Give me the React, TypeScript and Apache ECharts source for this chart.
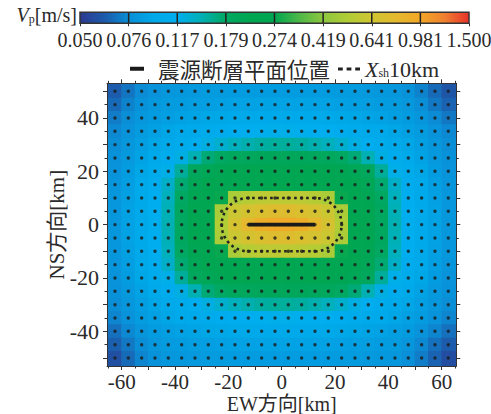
import React, { useEffect, useRef } from "react";
import * as echarts from "echarts";

// ---- grid of cell centres (km) ----
const xCenters = [-62.5, -57.5, -52.5, -47.5, -42.5, -37.5, -32.5, -27.5, -22.5, -17.5, -12.5, -7.5, -2.5, 2.5, 7.5, 12.5, 17.5, 22.5, 27.5, 32.5, 37.5, 42.5, 47.5, 52.5, 57.5, 62.5];
const yCenters = [50, 45, 40, 35, 30, 25, 20, 15, 10, 5, 0, -5, -10, -15, -20, -25, -30, -35, -40, -45, -50];

// ---- Vp [m/s] per row (west -> east) ----
const vpY50 = [0.062, 0.069, 0.076, 0.080, 0.082, 0.083, 0.084, 0.085, 0.085, 0.086, 0.086, 0.086, 0.086, 0.086, 0.086, 0.086, 0.086, 0.085, 0.085, 0.084, 0.083, 0.082, 0.079, 0.073, 0.066, 0.060];
const vpY45 = [0.066, 0.073, 0.079, 0.083, 0.085, 0.086, 0.087, 0.088, 0.089, 0.090, 0.090, 0.091, 0.091, 0.091, 0.091, 0.090, 0.090, 0.089, 0.088, 0.087, 0.086, 0.085, 0.082, 0.077, 0.070, 0.064];
const vpY40 = [0.071, 0.077, 0.082, 0.086, 0.088, 0.090, 0.092, 0.094, 0.096, 0.098, 0.099, 0.100, 0.100, 0.100, 0.100, 0.099, 0.098, 0.096, 0.094, 0.092, 0.090, 0.088, 0.086, 0.081, 0.076, 0.070];
const vpY35 = [0.075, 0.080, 0.085, 0.089, 0.093, 0.097, 0.101, 0.106, 0.110, 0.113, 0.116, 0.118, 0.119, 0.119, 0.118, 0.116, 0.113, 0.110, 0.106, 0.101, 0.097, 0.093, 0.089, 0.085, 0.080, 0.075];
const vpY30 = [0.077, 0.082, 0.088, 0.093, 0.099, 0.106, 0.114, 0.123, 0.132, 0.140, 0.147, 0.152, 0.154, 0.154, 0.152, 0.147, 0.140, 0.132, 0.123, 0.114, 0.106, 0.099, 0.093, 0.088, 0.082, 0.077];
const vpY25 = [0.079, 0.084, 0.091, 0.099, 0.109, 0.123, 0.145, 0.170, 0.182, 0.188, 0.192, 0.195, 0.196, 0.196, 0.195, 0.192, 0.188, 0.182, 0.170, 0.145, 0.123, 0.109, 0.099, 0.091, 0.084, 0.079];
const vpY20 = [0.080, 0.086, 0.094, 0.104, 0.120, 0.155, 0.190, 0.205, 0.215, 0.222, 0.228, 0.232, 0.233, 0.233, 0.232, 0.228, 0.222, 0.215, 0.205, 0.190, 0.155, 0.120, 0.104, 0.094, 0.086, 0.080];
const vpY15 = [0.081, 0.088, 0.097, 0.110, 0.135, 0.172, 0.205, 0.225, 0.240, 0.255, 0.265, 0.272, 0.275, 0.275, 0.272, 0.265, 0.255, 0.240, 0.225, 0.205, 0.172, 0.135, 0.110, 0.097, 0.088, 0.081];
const vpY10 = [0.082, 0.089, 0.099, 0.114, 0.140, 0.180, 0.215, 0.240, 0.280, 0.500, 0.540, 0.560, 0.570, 0.570, 0.560, 0.540, 0.500, 0.280, 0.240, 0.215, 0.180, 0.140, 0.114, 0.099, 0.089, 0.082];
const vpY05 = [0.082, 0.090, 0.101, 0.117, 0.143, 0.185, 0.222, 0.255, 0.500, 0.620, 0.680, 0.720, 0.740, 0.740, 0.720, 0.680, 0.620, 0.500, 0.255, 0.222, 0.185, 0.143, 0.117, 0.101, 0.090, 0.082];
const vpY00 = [0.082, 0.090, 0.102, 0.118, 0.145, 0.187, 0.225, 0.260, 0.520, 0.680, 0.800, 0.900, 0.950, 0.950, 0.900, 0.800, 0.680, 0.520, 0.260, 0.225, 0.187, 0.145, 0.118, 0.102, 0.090, 0.082];
const vpYm05 = [0.082, 0.090, 0.101, 0.117, 0.143, 0.185, 0.222, 0.255, 0.500, 0.620, 0.680, 0.720, 0.740, 0.740, 0.720, 0.680, 0.620, 0.500, 0.255, 0.222, 0.185, 0.143, 0.117, 0.101, 0.090, 0.082];
const vpYm10 = [0.082, 0.089, 0.099, 0.114, 0.140, 0.180, 0.215, 0.240, 0.280, 0.500, 0.540, 0.560, 0.570, 0.570, 0.560, 0.540, 0.500, 0.280, 0.240, 0.215, 0.180, 0.140, 0.114, 0.099, 0.089, 0.082];
const vpYm15 = [0.081, 0.088, 0.097, 0.110, 0.135, 0.172, 0.205, 0.225, 0.240, 0.255, 0.265, 0.272, 0.275, 0.275, 0.272, 0.265, 0.255, 0.240, 0.225, 0.205, 0.172, 0.135, 0.110, 0.097, 0.088, 0.081];
const vpYm20 = [0.080, 0.086, 0.094, 0.104, 0.120, 0.155, 0.190, 0.205, 0.215, 0.222, 0.228, 0.232, 0.233, 0.233, 0.232, 0.228, 0.222, 0.215, 0.205, 0.190, 0.155, 0.120, 0.104, 0.094, 0.086, 0.080];
const vpYm25 = [0.079, 0.084, 0.091, 0.099, 0.109, 0.123, 0.145, 0.170, 0.182, 0.188, 0.192, 0.195, 0.196, 0.196, 0.195, 0.192, 0.188, 0.182, 0.170, 0.145, 0.123, 0.109, 0.099, 0.091, 0.084, 0.079];
const vpYm30 = [0.077, 0.082, 0.088, 0.093, 0.099, 0.106, 0.114, 0.123, 0.132, 0.140, 0.147, 0.152, 0.154, 0.154, 0.152, 0.147, 0.140, 0.132, 0.123, 0.114, 0.106, 0.099, 0.093, 0.088, 0.082, 0.077];
const vpYm35 = [0.074, 0.080, 0.085, 0.089, 0.093, 0.097, 0.101, 0.106, 0.110, 0.113, 0.116, 0.118, 0.119, 0.119, 0.118, 0.116, 0.113, 0.110, 0.106, 0.101, 0.097, 0.093, 0.089, 0.085, 0.080, 0.074];
const vpYm40 = [0.068, 0.075, 0.081, 0.086, 0.088, 0.090, 0.092, 0.094, 0.096, 0.098, 0.099, 0.100, 0.100, 0.100, 0.100, 0.099, 0.098, 0.096, 0.094, 0.092, 0.090, 0.088, 0.086, 0.080, 0.074, 0.068];
const vpYm45 = [0.063, 0.070, 0.077, 0.082, 0.085, 0.086, 0.087, 0.088, 0.089, 0.090, 0.090, 0.091, 0.091, 0.091, 0.091, 0.090, 0.090, 0.089, 0.088, 0.087, 0.086, 0.085, 0.081, 0.075, 0.068, 0.062];
const vpYm50 = [0.058, 0.066, 0.074, 0.079, 0.082, 0.083, 0.084, 0.085, 0.085, 0.086, 0.086, 0.086, 0.086, 0.086, 0.086, 0.086, 0.086, 0.085, 0.085, 0.084, 0.083, 0.082, 0.078, 0.071, 0.064, 0.057];
const vpRows = [vpY50, vpY45, vpY40, vpY35, vpY30, vpY25, vpY20, vpY15, vpY10, vpY05, vpY00, vpYm05, vpYm10, vpYm15, vpYm20, vpYm25, vpYm30, vpYm35, vpYm40, vpYm45, vpYm50];

// ---- colour bar ----
const colorbarTicks = ["0.050", "0.076", "0.117", "0.179", "0.274", "0.419", "0.641", "0.981", "1.500"];
const VP_MIN = 0.05;
const VP_MAX = 1.5;
const colorStops = [
  "#2b3990", "#1d5aab", "#0a8ed6", "#00a8e8", "#00aeef", "#00b0b4", "#00a862", "#00a651", "#00a651",
  "#4cb748", "#8dc63f", "#b0cd36", "#cfc632", "#e4b92d", "#f2a727", "#ef8030", "#e8312a",
];

// ---- axes ----
const xLabelValues = [-60, -40, -20, 0, 20, 40, 60];
const xMajorTicks = [-60, -50, -40, -30, -20, -10, 0, 10, 20, 30, 40, 50, 60];
const xMinorTicks = [-65, -55, -45, -35, -25, -15, -5, 5, 15, 25, 35, 45, 55, 65];
const yLabelValues = [-40, -20, 0, 20, 40];
const yMajorTicks = [-50, -40, -30, -20, -10, 0, 10, 20, 30, 40, 50];
const yMinorTicks = [-45, -35, -25, -15, -5, 5, 15, 25, 35, 45];
const X_MIN = -65.5;
const X_MAX = 65.5;
const Y_MIN = -53;
const Y_MAX = 53;

// ---- fault and Xsh contour ----
const faultX = [-12.5, 12.5];
const faultY = 0;
const xshKm = 10;

const SERIF = "'Liberation Serif', 'Times New Roman', serif";
const MIXED = "'Liberation Serif', 'Noto Sans CJK JP', serif";
const CJK = "'Noto Sans CJK JP', 'Noto Sans CJK SC', sans-serif";
const AXIS_COLOR = "#333";
const TEXT_COLOR = "#2a2a2a";

const toIndex = (v: number) => ((colorbarTicks.length - 1) * Math.log(v / VP_MIN)) / Math.log(VP_MAX / VP_MIN);

export default function App() {
  const ref = useRef<HTMLDivElement>(null);

  useEffect(() => {
    const chart = echarts.init(ref.current!, null, { renderer: "svg" });

    const heatData: number[][] = [];
    vpRows.forEach((row, ri) =>
      row.forEach((v, ci) => heatData.push([xCenters[ci], yCenters[ri], toIndex(v), v]))
    );
    const dotData = heatData.map((d) => [d[0], d[1]]);

    const stadium: number[][] = [];
    for (let a = -90; a <= 90; a += 5) {
      const r = (a * Math.PI) / 180;
      stadium.push([faultX[1] + xshKm * Math.cos(r), faultY + xshKm * Math.sin(r)]);
    }
    for (let a = 90; a <= 270; a += 5) {
      const r = (a * Math.PI) / 180;
      stadium.push([faultX[0] + xshKm * Math.cos(r), faultY + xshKm * Math.sin(r)]);
    }
    stadium.push(stadium[0]);

    const nSeg = colorbarTicks.length - 1;
    const gradient = new echarts.graphic.LinearGradient(
      0, 0, 1, 0,
      colorStops.map((c, i) => ({ offset: i / (colorStops.length - 1), color: c }))
    );

    const tickAxis = (
      grid: number,
      pos: string,
      ticks: number[],
      len: number,
      labels: number[] | null,
      min: number,
      max: number,
      line: boolean,
      labelMargin: number,
      labelSize: number,
      extra: any = {}
    ) => ({
      type: "value",
      gridIndex: grid,
      position: pos,
      min,
      max,
      z: 10,
      splitLine: { show: false },
      axisLine: { show: line, onZero: false, lineStyle: { color: AXIS_COLOR, width: 1 } },
      axisTick: { show: true, inside: false, length: len, customValues: ticks, lineStyle: { color: AXIS_COLOR, width: 1 } },
      axisLabel: labels
        ? {
            show: true,
            customValues: labels,
            fontFamily: SERIF,
            fontSize: labelSize,
            color: TEXT_COLOR,
            margin: labelMargin,
          }
        : { show: false },
      ...extra,
    });

    const option: any = {
      animation: false,
      backgroundColor: "#fff",
      grid: [
        { left: 107, top: 83.3, width: 349.3, height: 282.7, containLabel: false, outerBoundsMode: "none" },
        { left: 80, top: 12.3, width: 389, height: 11, containLabel: false, outerBoundsMode: "none" },
      ],
      xAxis: [
        tickAxis(0, "bottom", xMajorTicks, 4, xLabelValues, X_MIN, X_MAX, true, 5, 21, {
          name: "EW方向[km]",
          nameLocation: "middle",
          nameGap: 28,
          nameMoveOverlap: false,
          nameTextStyle: { fontFamily: MIXED, fontSize: 20, color: TEXT_COLOR },
        }),
        tickAxis(0, "bottom", xMinorTicks, 2.5, null, X_MIN, X_MAX, false, 0, 20),
        tickAxis(0, "top", xMajorTicks, 4, null, X_MIN, X_MAX, true, 0, 20),
        tickAxis(0, "top", xMinorTicks, 2.5, null, X_MIN, X_MAX, false, 0, 20),
        {
          type: "value",
          gridIndex: 1,
          min: 0,
          max: nSeg,
          interval: 1,
          position: "bottom",
          splitLine: { show: false },
          axisLine: { show: false },
          axisTick: { show: true, length: 3, lineStyle: { color: AXIS_COLOR } },
          axisLabel: {
            formatter: (v: number) => colorbarTicks[Math.round(v)],
            fontFamily: SERIF,
            fontSize: 20,
            color: TEXT_COLOR,
            margin: 7,
          },
        },
      ],
      yAxis: [
        tickAxis(0, "left", yMajorTicks, 4, yLabelValues, Y_MIN, Y_MAX, true, 8, 22, {
          name: "NS方向[km]",
          nameLocation: "middle",
          nameGap: 40,
          nameMoveOverlap: false,
          nameTextStyle: { fontFamily: MIXED, fontSize: 21, color: TEXT_COLOR },
        }),
        tickAxis(0, "left", yMinorTicks, 2.5, null, Y_MIN, Y_MAX, false, 0, 20),
        tickAxis(0, "right", yMajorTicks, 4, null, Y_MIN, Y_MAX, true, 0, 20),
        tickAxis(0, "right", yMinorTicks, 2.5, null, Y_MIN, Y_MAX, false, 0, 20),
        { type: "value", gridIndex: 1, min: 0, max: 1, show: false },
      ],
      visualMap: {
        type: "continuous",
        show: false,
        seriesIndex: 0,
        dimension: 2,
        min: 0,
        max: nSeg,
        inRange: { color: colorStops },
      },
      legend: [
        {
          left: 125,
          top: 53,
          itemWidth: 14,
          itemHeight: 4,
          selectedMode: false,
          data: [{ name: "震源断層平面位置", icon: "rect" }],
          formatter: (n: string) => `{a|${n}}`,
          textStyle: {
            rich: { a: { fontFamily: CJK, fontSize: 21.5, color: TEXT_COLOR, padding: [0, 0, 0, 9] } },
          },
        },
        {
          left: 333,
          top: 53,
          itemWidth: 22,
          itemHeight: 3,
          selectedMode: false,
          data: [{ name: "Xsh10km", icon: "path://M0,0h5v3h-5z M9,0h5v3h-5z M18,0h5v3h-5z" }],
          formatter: () => "{x|X}{s|sh}{n|10km}",
          textStyle: {
            rich: {
              x: { fontFamily: SERIF, fontStyle: "italic", fontSize: 22, color: TEXT_COLOR },
              s: { fontFamily: SERIF, fontSize: 12, color: TEXT_COLOR, padding: [8, 0, 0, 0] },
              n: { fontFamily: SERIF, fontSize: 22, color: TEXT_COLOR },
            },
          },
        },
      ],
      graphic: [
        {
          type: "text",
          right: 491 - 77,
          top: 5,
          style: {
            text: "{v|V}{p|p}{u|[m/s]}",
            rich: {
              v: { fontFamily: SERIF, fontStyle: "italic", fontSize: 20, fill: TEXT_COLOR },
              p: { fontFamily: SERIF, fontSize: 12, fill: TEXT_COLOR, padding: [8, 0, 0, 0] },
              u: { fontFamily: SERIF, fontSize: 20, fill: TEXT_COLOR },
            },
          },
        },
      ],
      series: [
        {
          type: "custom",
          name: "Vp",
          xAxisIndex: 0,
          yAxisIndex: 0,
          z: 1,
          silent: true,
          clip: true,
          dimensions: ["x", "y", "idx", "vp"],
          encode: { x: 0, y: 1 },
          data: heatData,
          renderItem: (_params: any, api: any) => {
            const x = api.value(0);
            const y = api.value(1);
            const left = x === xCenters[0] ? X_MIN : x - 2.5;
            const right = x === xCenters[xCenters.length - 1] ? X_MAX : x + 2.5;
            const top = y === yCenters[0] ? Y_MAX : y + 2.5;
            const bottom = y === yCenters[yCenters.length - 1] ? Y_MIN : y - 2.5;
            const p0 = api.coord([left, top]);
            const p1 = api.coord([right, bottom]);
            return {
              type: "rect",
              shape: { x: p0[0] - 0.3, y: p0[1] - 0.3, width: p1[0] - p0[0] + 0.6, height: p1[1] - p0[1] + 0.6 },
              style: { fill: api.visual("color") },
            };
          },
        },
        {
          type: "scatter",
          name: "grid",
          xAxisIndex: 0,
          yAxisIndex: 0,
          z: 3,
          silent: true,
          symbol: "circle",
          symbolSize: 3.4,
          itemStyle: { color: "#1a1a1a" },
          data: dotData,
        },
        {
          type: "line",
          name: "Xsh10km",
          xAxisIndex: 0,
          yAxisIndex: 0,
          z: 4,
          silent: true,
          symbol: "none",
          showSymbol: false,
          color: "#222",
          itemStyle: { color: "#222" },
          lineStyle: { color: "#222", width: 2.6, type: [2.6, 3.4] },
          data: stadium,
        },
        {
          type: "line",
          name: "震源断層平面位置",
          xAxisIndex: 0,
          yAxisIndex: 0,
          z: 5,
          silent: true,
          symbol: "none",
          showSymbol: false,
          color: "#1a1a1a",
          itemStyle: { color: "#1a1a1a" },
          lineStyle: { color: "#1a1a1a", width: 3.6 },
          data: [
            [faultX[0], faultY],
            [faultX[1], faultY],
          ],
        },
        {
          type: "custom",
          name: "colorbar",
          xAxisIndex: 4,
          yAxisIndex: 4,
          silent: true,
          data: [[0, 0]],
          renderItem: (_params: any, api: any) => {
            const p0 = api.coord([0, 1]);
            const p1 = api.coord([nSeg, 0]);
            const children: any[] = [
              {
                type: "rect",
                shape: { x: p0[0], y: p0[1], width: p1[0] - p0[0], height: p1[1] - p0[1] },
                style: { fill: gradient },
              },
            ];
            for (let k = 1; k < nSeg; k++) {
              const a = api.coord([k, 1]);
              const b = api.coord([k, 0]);
              children.push({
                type: "line",
                shape: { x1: a[0], y1: a[1], x2: b[0], y2: b[1] },
                style: { stroke: "#222", lineWidth: 1.5 },
              });
            }
            children.push({
              type: "rect",
              shape: { x: p0[0], y: p0[1], width: p1[0] - p0[0], height: p1[1] - p0[1] },
              style: { fill: "none", stroke: "#333", lineWidth: 1.5 },
            });
            return { type: "group", children };
          },
        },
      ],
    };

    chart.setOption(option);
    return () => chart.dispose();
  }, []);

  return (
    <div
      ref={ref}
      style={{ position: "fixed", left: 0, top: 0, width: 491, height: 414, background: "#fff" }}
    />
  );
}
